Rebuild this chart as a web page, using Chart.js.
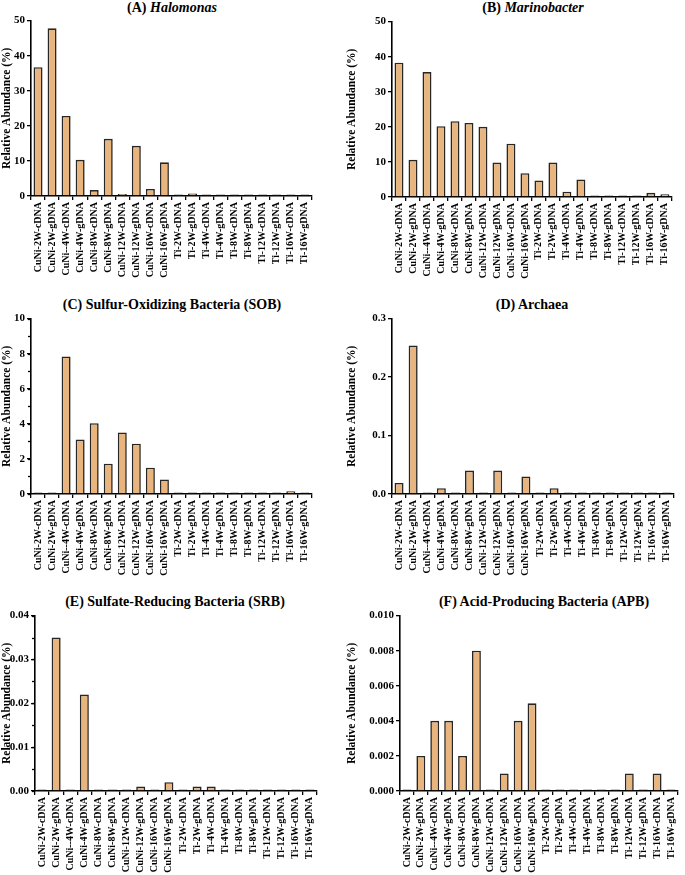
<!DOCTYPE html>
<html>
<head>
<meta charset="utf-8">
<script src="https://cdn.jsdelivr.net/npm/chart.js@4.4.1/dist/chart.umd.min.js"></script>
<style>
body{margin:0;background:#fff;width:685px;height:875px;position:relative;overflow:hidden;font-family:"Liberation Serif","Times New Roman",serif;}
canvas{position:absolute;}
.ttl{position:absolute;font-weight:bold;font-size:14px;white-space:nowrap;transform:translate(-50%,-50%);color:#000;}
</style>
</head>
<body>
<div class="ttl" style="left:172px;top:8px">(A) <i>Halomonas</i></div>
<div class="ttl" style="left:533px;top:8px">(B) <i>Marinobacter</i></div>
<div class="ttl" style="left:172px;top:305px">(C) Sulfur-Oxidizing Bacteria (SOB)</div>
<div class="ttl" style="left:532px;top:305px">(D) Archaea</div>
<div class="ttl" style="left:175px;top:602px">(E) Sulfate-Reducing Bacteria (SRB)</div>
<div class="ttl" style="left:544px;top:602px">(F) Acid-Producing Bacteria (APB)</div>
<canvas id="cA"></canvas>
<canvas id="cB"></canvas>
<canvas id="cC"></canvas>
<canvas id="cD"></canvas>
<canvas id="cE"></canvas>
<canvas id="cF"></canvas>
<script>
// sample names (x axis)
var samples = ["CuNi-2W-cDNA","CuNi-2W-gDNA","CuNi--4W-cDNA","CuNi-4W-gDNA","CuNi-8W-cDNA","CuNi-8W-gDNA",
  "CuNi-12W-cDNA","CuNi-12W-gDNA","CuNi-16W-cDNA","CuNi-16W-gDNA","Ti-2W-cDNA","Ti-2W-gDNA","Ti-4W-cDNA",
  "Ti-4W-gDNA","Ti-8W-cDNA","Ti-8W-gDNA","Ti-12W-cDNA","Ti-12W-gDNA","Ti-16W-cDNA","Ti-16W-gDNA"];

// relative abundance (%)
var halomonas = [36.7,47.8,22.8,10.3,1.7,16.3,0.6,14.3,2.0,9.6,0.1,0.7,0.2,0.05,0.15,0.1,0.1,0.1,0.1,0.1];
var marinobacter = [38.3,10.6,35.6,20.2,21.6,21.1,20.0,9.8,15.2,6.8,4.7,9.8,1.5,5.0,0.3,0.4,0.05,0.1,1.2,0.8];
var sob = [0,0,7.84,3.11,4.04,1.73,3.51,2.87,1.5,0.83,0,0,0,0,0,0,0,0,0.15,0];
var archaea = [0.019,0.254,0,0.01,0,0.04,0,0.04,0,0.03,0,0.01,0,0,0,0,0,0,0,0];
var srb = [0,0.035,0,0.022,0,0,0,0.001,0,0.002,0,0.001,0.001,0,0,0,0,0,0,0];
var apb = [0,0.002,0.004,0.004,0.002,0.008,0,0.001,0.004,0.005,0,0,0,0,0,0,0.001,0,0.001,0];

// y axis settings per panel
var yMax = {A:50,B:50,C:10,D:0.3,E:0.04,F:0.010};
var yStep = {A:10,B:10,C:2,D:0.1,E:0.01,F:0.002};
var yDecimals = {A:0,B:0,C:0,D:1,E:2,F:3};
var yMinor = {A:0,B:0,C:1,D:0,E:0.005,F:0};

var FONT = "'Liberation Serif','Times New Roman',serif";

var minorTicks = {
  id:'minorTicks',
  afterDraw:function(chart){
    var step = chart.options.plugins.minorTicks.step;
    if(!step) return;
    var y = chart.scales.y, ctx = chart.ctx, x0 = chart.chartArea.left;
    ctx.save();
    ctx.strokeStyle = '#000'; ctx.lineWidth = 1.3;
    for(var v=0; v<=y.max+1e-9; v+=step){
      var p = Math.round(y.getPixelForValue(v))+0.5;
      ctx.beginPath(); ctx.moveTo(x0-3,p); ctx.lineTo(x0,p); ctx.stroke();
    }
    ctx.restore();
  }
};

function panel(id,key,data,left,axisX,top,bottom,right){
  var cv = document.getElementById(id);
  var padTop = 8, xh = 92;
  var ct = top - padTop;
  var w = Math.min(right + 6, 685) - left;
  var h = bottom - ct + xh;
  cv.style.left = left+'px'; cv.style.top = ct+'px';
  cv.style.width = w+'px'; cv.style.height = h+'px';
  cv.width = w; cv.height = h;
  new Chart(cv,{
    type:'bar',
    data:{labels:samples,datasets:[{data:data,backgroundColor:'#E8B57E',borderColor:'#262626',
      borderWidth:1.6,barPercentage:0.64,categoryPercentage:1,minBarLength:1.5,borderSkipped:'bottom'}]},
    options:{
      responsive:false,animation:false,devicePixelRatio:1,
      layout:{padding:{top:padTop,right:w-(right-left),left:0,bottom:0}},
      plugins:{legend:{display:false},tooltip:{enabled:false},minorTicks:{step:yMinor[key]}},
      scales:{
        x:{grid:{display:true,drawOnChartArea:false,drawTicks:true,tickLength:4,color:'#000',lineWidth:1.3},
          border:{color:'#000',width:1.6},
          ticks:{maxRotation:90,minRotation:90,autoSkip:false,padding:2,color:'#000',
            font:{family:FONT,size:10,weight:'bold'}},
          afterFit:function(s){s.height = xh;}},
        y:{min:0,max:yMax[key],
          grid:{display:true,drawOnChartArea:false,drawTicks:true,tickLength:4,color:'#000',lineWidth:1.3},
          border:{color:'#000',width:1.6},
          ticks:{stepSize:yStep[key],padding:2,color:'#000',font:{family:FONT,size:11,weight:'bold'},
            callback:function(v){return Number(v).toFixed(yDecimals[key]);}},
          title:{display:true,text:'Relative Abundance (%)',color:'#000',padding:{top:0,bottom:2},
            font:{family:FONT,size:11.5,weight:'bold'}},
          afterFit:function(s){s.width = axisX - left;}}
      }
    },
    plugins:[minorTicks]
  });
}

panel('cA','A',halomonas,0,31,20,196,313);
panel('cB','B',marinobacter,345,392,21,197,673);
panel('cC','C',sob,0,31,318,494,313);
panel('cD','D',archaea,345,392,318,494,675);
panel('cE','E',srb,0,35,615,791,318);
panel('cF','F',apb,345,400,615,791,685);
</script>
</body>
</html>
